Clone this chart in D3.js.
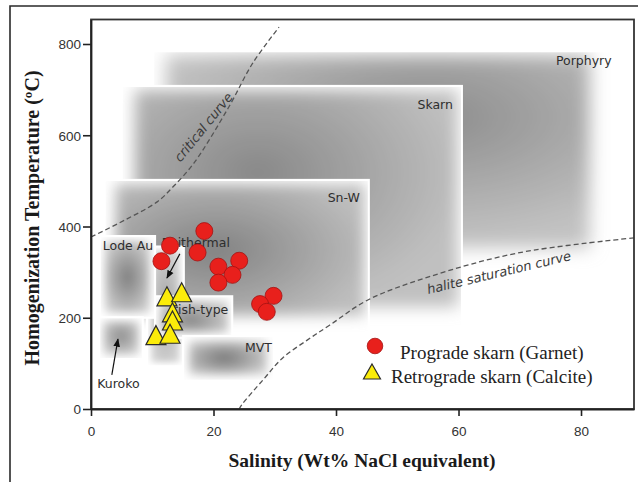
<!DOCTYPE html>
<html>
<head>
<meta charset="utf-8">
<script src="https://cdn.jsdelivr.net/npm/d3@7"></script>
<style>
  body { margin: 0; background: #fff; }
  svg { display: block; }
</style>
</head>
<body>
<svg id="chart" width="638" height="482"></svg>
<script>
// Axis ticks
const salinityTicks = [0, 20, 40, 60, 80];
const temperatureTicks = [0, 200, 400, 600, 800];

// Fluid inclusion data: prograde (garnet) and retrograde (calcite) stages
const garnetSalinity    = [18.5, 12.9, 11.5, 17.4, 20.8, 24.2, 23.1, 20.8, 29.8, 27.6, 28.7];
const garnetTemperature = [390, 358, 324, 343, 312, 325, 294, 277, 248, 230, 213];
const calciteSalinity    = [12.4, 14.8, 13.3, 13.3, 10.6, 12.9];
const calciteTemperature = [240, 249, 205, 187, 155, 158];

// Deposit-type fields (salinity range, temperature range)
const regionNames = ["Porphyry", "Skarn", "Sn-W", "Epithermal", "Irish-type", "MVT", "Lode Au", "Kuroko"];
const regionSalinity = [[10.3, 85.0], [5.2, 60.4], [2.4, 45.2], [9.3, 15.0], [10.6, 22.9], [15.2, 29.7], [1.6, 10.3], [1.5, 8.3]];
const regionTemperature = [[305, 782], [180, 706], [165, 500], [96, 354], [158, 245], [64, 158], [202, 377], [112, 199]];

// Phase boundaries (salinity, temperature)
const criticalCurve = [[0, 377], [5.5, 414], [10.8, 454], [13.4, 487], [16.8, 539], [22.5, 662], [26.4, 758], [30.7, 837]];
const haliteCurve = [[24.2, 0], [24.6, 9], [28.1, 64], [31.3, 112], [35.3, 151], [39.0, 184], [45.2, 239], [55.0, 289], [69.7, 342], [88.65, 375]];

const legendLabels = ["Prograde skarn (Garnet)", "Retrograde skarn (Calcite)"];

// ---- layout ----
const plot = { left: 91, right: 634, top: 19.5, bottom: 409 };
const x = d3.scaleLinear().domain([0, 88.65]).range([plot.left, plot.right]);
const y = d3.scaleLinear().domain([0, 853.7]).range([plot.bottom, plot.top]);

const svg = d3.select("#chart");
const defs = svg.append("defs");

// outer figure border
svg.append("path")
  .attr("d", "M10,482 L10,6 L640,6")
  .attr("fill", "none").attr("stroke", "#2a2a2a").attr("stroke-width", 1.6);

defs.append("clipPath").attr("id", "plotClip")
  .append("rect").attr("x", plot.left).attr("y", plot.top)
  .attr("width", plot.right - plot.left).attr("height", plot.bottom - plot.top);

// shading style for each field: centre grey, edge grey, gradient centre, blur, inset [top, right, bottom, left]
const regionStyle = [
  { c: "#8c8c8c", e: "#c2c2c2", cx: "62%", cy: "32%", blur: 9, inset: [3, 22, 22, 12] },
  { c: "#888888", e: "#c0c0c0", cx: "38%", cy: "38%", blur: 8, inset: [3, 3, 20, 12] },
  { c: "#828282", e: "#bebebe", cx: "40%", cy: "50%", blur: 7, inset: [3, 3, 18, 10] },
  { c: "#a4a4a4", e: "#dadada", cx: "50%", cy: "50%", blur: 3, inset: [3, 3, 3, 3] },
  { c: "#868686", e: "#d4d4d4", cx: "45%", cy: "60%", blur: 4, inset: [3, 3, 4, 4] },
  { c: "#777777", e: "#d4d4d4", cx: "45%", cy: "50%", blur: 5, inset: [4, 6, 5, 5] },
  { c: "#7e7e7e", e: "#d6d6d6", cx: "50%", cy: "50%", blur: 4, inset: [4, 4, 4, 4] },
  { c: "#8c8c8c", e: "#d6d6d6", cx: "50%", cy: "45%", blur: 4, inset: [3, 3, 3, 3] }
];
// label placement relative to the field box: [anchor, corner, dx, dy]
const labelPlace = [
  ["end", "tr", 0, 12.5],
  ["end", "tr", -8, 22.5],
  ["end", "tr", -8, 21.5],
  ["end", "tr", 47, 0],
  ["end", "tr", -3, 17],
  ["end", "tr", -1, 15],
  ["start", "tl", 2, 13],
  ["start", "bl", -3, 30]
];

const fields = svg.append("g").attr("clip-path", "url(#plotClip)");

regionNames.forEach((name, i) => {
  const x0 = x(regionSalinity[i][0]), x1 = x(regionSalinity[i][1]);
  const y0 = y(regionTemperature[i][1]), y1 = y(regionTemperature[i][0]);
  const st = regionStyle[i];
  const [it, ir, ib, il] = st.inset;

  const grad = defs.append("radialGradient").attr("id", "grad" + i)
    .attr("cx", st.cx).attr("cy", st.cy).attr("r", "65%");
  grad.append("stop").attr("offset", "0%").attr("stop-color", st.c);
  grad.append("stop").attr("offset", "100%").attr("stop-color", st.e);

  const f = defs.append("filter").attr("id", "blur" + i)
    .attr("x", "-20%").attr("y", "-20%").attr("width", "140%").attr("height", "140%");
  f.append("feGaussianBlur").attr("stdDeviation", st.blur);

  defs.append("clipPath").attr("id", "clip" + i)
    .append("rect").attr("x", x0).attr("y", y0).attr("width", x1 - x0).attr("height", y1 - y0);

  const g = fields.append("g");
  // white margin separating this field from those beneath it
  g.append("rect")
    .attr("x", x0 - 2).attr("y", y0 - 2)
    .attr("width", x1 - x0 + 4).attr("height", y1 - y0 + 4)
    .attr("fill", "#fff");
  g.append("g").attr("clip-path", `url(#clip${i})`)
    .append("rect")
    .attr("x", x0 + il).attr("y", y0 + it)
    .attr("width", Math.max(1, x1 - x0 - il - ir))
    .attr("height", Math.max(1, y1 - y0 - it - ib))
    .attr("fill", `url(#grad${i})`)
    .attr("filter", `url(#blur${i})`);
});

// field labels
regionNames.forEach((name, i) => {
  const [anchor, corner, dx, dy] = labelPlace[i];
  const bx = corner === "tr" ? x(regionSalinity[i][1]) : x(regionSalinity[i][0]);
  const by = corner === "bl" ? y(regionTemperature[i][0]) : y(regionTemperature[i][1]);
  svg.append("text")
    .attr("x", bx + dx).attr("y", by + dy)
    .attr("text-anchor", anchor)
    .attr("font-family", "DejaVu Sans, Verdana, sans-serif")
    .attr("font-size", 12.5)
    .attr("fill", "#2e2e2e")
    .text(name);
});

// arrows for the small fields
defs.append("marker").attr("id", "arrowHead")
  .attr("viewBox", "0 0 10 10").attr("refX", 9).attr("refY", 5)
  .attr("markerWidth", 7).attr("markerHeight", 7).attr("orient", "auto")
  .append("path").attr("d", "M0,1 L10,5 L0,9 Z").attr("fill", "#111");

const arrows = [
  [[14.5, 340], [12.4, 287]],
  [[3.4, 75], [4.4, 153]]
];
arrows.forEach(a => {
  svg.append("line")
    .attr("x1", x(a[0][0])).attr("y1", y(a[0][1]))
    .attr("x2", x(a[1][0])).attr("y2", y(a[1][1]))
    .attr("stroke", "#111").attr("stroke-width", 1.2)
    .attr("marker-end", "url(#arrowHead)");
});

// phase boundary curves
const curveLine = d3.line().x(d => x(d[0])).y(d => y(d[1])).curve(d3.curveCatmullRom.alpha(0.5));
const curves = svg.append("g").attr("clip-path", "url(#plotClip)");
[criticalCurve, haliteCurve].forEach(c => {
  curves.append("path").attr("d", curveLine(c))
    .attr("fill", "none").attr("stroke", "#555")
    .attr("stroke-width", 1.3).attr("stroke-dasharray", "5,3");
});

svg.append("text")
  .attr("transform", "translate(207,130) rotate(-51)")
  .attr("text-anchor", "middle")
  .attr("font-family", "DejaVu Sans, Verdana, sans-serif")
  .attr("font-style", "italic").attr("font-size", 13)
  .attr("fill", "#3a3a3a")
  .text("critical curve");

svg.append("text")
  .attr("transform", "translate(500,277) rotate(-13.4)")
  .attr("text-anchor", "middle")
  .attr("font-family", "DejaVu Sans, Verdana, sans-serif")
  .attr("font-style", "italic").attr("font-size", 13)
  .attr("fill", "#3a3a3a")
  .text("halite saturation curve");

// data markers
const triPath = (w, h) => `M0,${-2 * h / 3}L${w / 2},${h / 3}L${-w / 2},${h / 3}Z`;

svg.append("g").selectAll("circle")
  .data(garnetSalinity.map((s, i) => [s, garnetTemperature[i]]))
  .join("circle")
  .attr("cx", d => x(d[0])).attr("cy", d => y(d[1])).attr("r", 8.5)
  .attr("fill", "#e8201c").attr("stroke", "#a31212").attr("stroke-width", 0.8);

svg.append("g").selectAll("path")
  .data(calciteSalinity.map((s, i) => [s, calciteTemperature[i]]))
  .join("path")
  .attr("transform", d => `translate(${x(d[0])},${y(d[1])})`)
  .attr("d", triPath(20, 19))
  .attr("fill", "#fbec0a").attr("stroke", "#2a2a2a").attr("stroke-width", 1.2)
  .attr("stroke-linejoin", "miter");

// frame
svg.append("rect")
  .attr("x", plot.left).attr("y", plot.top)
  .attr("width", plot.right - plot.left).attr("height", plot.bottom - plot.top)
  .attr("fill", "none").attr("stroke", "#333").attr("stroke-width", 1.8);

// axes
const xAxis = svg.append("g").attr("transform", `translate(0,${plot.bottom})`)
  .call(d3.axisBottom(x).tickValues(salinityTicks).tickSizeInner(7).tickSizeOuter(0).tickPadding(10));
const yAxis = svg.append("g").attr("transform", `translate(${plot.left},0)`)
  .call(d3.axisLeft(y).tickValues(temperatureTicks).tickSizeInner(8).tickSizeOuter(0).tickPadding(2));
[xAxis, yAxis].forEach(ax => {
  ax.select(".domain").attr("stroke", "#222").attr("stroke-width", 1.8);
  ax.selectAll(".tick line").attr("stroke", "#222").attr("stroke-width", 1.6);
  ax.selectAll(".tick text")
    .attr("font-family", "Liberation Sans, Arial, sans-serif")
    .attr("font-size", 13.5).attr("fill", "#333");
});
yAxis.selectAll(".tick text").attr("dy", "0.36em");

// axis titles
svg.append("text")
  .attr("x", 362).attr("y", 467)
  .attr("text-anchor", "middle")
  .attr("font-family", "Liberation Serif, Times New Roman, serif")
  .attr("font-weight", "bold").attr("font-size", 19.5)
  .attr("fill", "#1a1a1a")
  .text("Salinity (Wt% NaCl equivalent)");

svg.append("text")
  .attr("transform", "translate(39,218) rotate(-90)")
  .attr("text-anchor", "middle")
  .attr("font-family", "Liberation Serif, Times New Roman, serif")
  .attr("font-weight", "bold").attr("font-size", 20)
  .attr("fill", "#1a1a1a")
  .text("Homogenization Temperature (ºC)");

// legend
const legend = svg.append("g");
legend.append("circle").attr("cx", 375).attr("cy", 346).attr("r", 7.8)
  .attr("fill", "#e8201c").attr("stroke", "#a31212").attr("stroke-width", 0.8);
legend.append("path").attr("transform", "translate(372,374)")
  .attr("d", triPath(17, 15))
  .attr("fill", "#fbec0a").attr("stroke", "#2a2a2a").attr("stroke-width", 1.2);
legend.selectAll("text.lg").data(legendLabels).join("text")
  .attr("class", "lg")
  .attr("x", (d, i) => i === 0 ? 400 : 391)
  .attr("y", (d, i) => i === 0 ? 359 : 383)
  .attr("font-family", "Liberation Serif, Times New Roman, serif")
  .attr("font-size", 19).attr("fill", "#222")
  .text(d => d);
</script>
</body>
</html>
